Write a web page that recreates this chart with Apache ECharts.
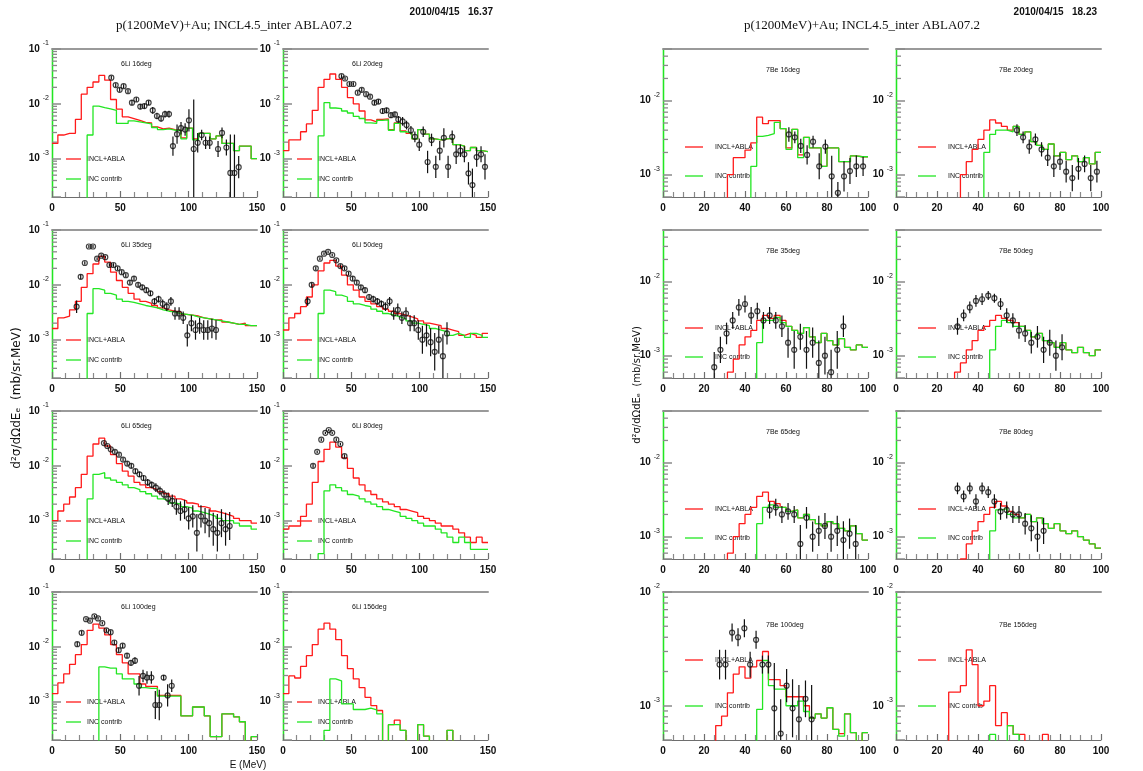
<!DOCTYPE html>
<html>
<head>
<meta charset="utf-8">
<script src="https://cdn.jsdelivr.net/npm/echarts@6/dist/echarts.min.js"></script>
<style>
  html, body { margin: 0; padding: 0; background: #fff; }
  #chart { width: 1143px; height: 771px; }
</style>
</head>
<body>
<div id="chart"></div>
<script>
// bin edges (35 bins per spectrum)
const liEdges = [0, 4.29, 8.57, 12.86, 17.14, 21.43, 25.71, 30, 34.29, 38.57, 42.86, 47.14, 51.43, 55.71, 60, 64.29, 68.57, 72.86, 77.14, 81.43, 85.71, 90, 94.29, 98.57, 102.86, 107.14, 111.43, 115.71, 120, 124.29, 128.57, 132.86, 137.14, 141.43, 145.71, 150];
const beEdges = [0, 2.86, 5.71, 8.57, 11.43, 14.29, 17.14, 20, 22.86, 25.71, 28.57, 31.43, 34.29, 37.14, 40, 42.86, 45.71, 48.57, 51.43, 54.29, 57.14, 60, 62.86, 65.71, 68.57, 71.43, 74.29, 77.14, 80, 82.86, 85.71, 88.57, 91.43, 94.29, 97.14, 100];

// ---- 6Li ----
const li16Red = [1.9e-3, 2.7e-3, 2.9e-3, 2.9e-3, 5.2e-3, 1.5e-2, 2.0e-2, 2.5e-2, 3.3e-2, 2.7e-2, 1.2e-2, 8.0e-3, 5.8e-3, 5.4e-3, 5.0e-3, 4.6e-3, 4.5e-3, 3.8e-3, 3.5e-3, 3.6e-3, 3.4e-3, 3.3e-3, 2.4e-3, 3.6e-3, 2.3e-3, 2.9e-3, 2.9e-3, 2.3e-3, 2.6e-3, 1.9e-3, 1.9e-3, 1.4e-3, 1.7e-3, 1.7e-3, 1.0e-3];
const li16Green = [0, 0, 0, 0, 0, 0, 2.7e-3, 9.1e-3, 8.5e-3, 8.1e-3, 7.6e-3, 4.4e-3, 4.4e-3, 4.9e-3, 4.7e-3, 4.5e-3, 4.3e-3, 3.7e-3, 3.4e-3, 3.5e-3, 3.3e-3, 3.3e-3, 2.3e-3, 3.6e-3, 2.2e-3, 2.9e-3, 2.9e-3, 2.3e-3, 2.6e-3, 1.9e-3, 1.9e-3, 1.4e-3, 1.7e-3, 1.7e-3, 1.0e-3];
const li16Pts = [[43.4, 3.0e-2, 1.08], [46.6, 2.2e-2, 1.08], [49.5, 1.8e-2, 1.08], [52.4, 2.1e-2, 1.08], [55.6, 1.7e-2, 1.08], [58.5, 1.05e-2, 1.12], [61.7, 1.2e-2, 1.1], [64.6, 8.9e-3, 1.12], [67.6, 9.1e-3, 1.12], [70.7, 1.05e-2, 1.1], [73.7, 7.6e-3, 1.15], [76.8, 6.0e-3, 1.15], [79.8, 5.4e-3, 1.15], [82.7, 6.5e-3, 1.15], [85.6, 6.5e-3, 1.15], [88.5, 1.7e-3, 1.5], [91.5, 2.8e-3, 1.5], [94.4, 3.6e-3, 1.3], [97.4, 3.4e-3, 1.3], [100.2, 5.0e-3, 1.6], [103.7, 1.5e-3, 8], [106.6, 1.95e-3, 1.5], [109.5, 2.7e-3, 1.25], [112.4, 1.95e-3, 1.3], [115.4, 1.95e-3, 1.3], [121.5, 1.5e-3, 1.4], [124.4, 2.95e-3, 1.25], [127.6, 1.6e-3, 1.4], [130.5, 5.5e-4, 5], [133.5, 5.5e-4, 5], [136.6, 7.0e-4, 1.6]];

const li20Red = [1.4e-3, 2.2e-3, 2.2e-3, 3.1e-3, 4.3e-3, 7.6e-3, 2.0e-2, 2.8e-2, 3.5e-2, 2.8e-2, 2.0e-2, 1.3e-2, 1.0e-2, 7.4e-3, 5.1e-3, 4.7e-3, 5.2e-3, 5.3e-3, 3.4e-3, 4.5e-3, 3.2e-3, 2.9e-3, 2.3e-3, 3.4e-3, 2.8e-3, 2.3e-3, 2.2e-3, 2.3e-3, 2.35e-3, 1.8e-3, 1.7e-3, 1.4e-3, 1.6e-3, 1.4e-3, 1.35e-3];
const li20Green = [0, 0, 0, 0, 0, 0, 2.6e-3, 1.05e-2, 8.4e-3, 8.2e-3, 7.4e-3, 6.8e-3, 5.9e-3, 5.4e-3, 4.5e-3, 4.4e-3, 5.0e-3, 5.1e-3, 3.3e-3, 4.4e-3, 3.1e-3, 2.9e-3, 2.3e-3, 3.4e-3, 2.8e-3, 2.3e-3, 2.2e-3, 2.3e-3, 2.35e-3, 1.8e-3, 1.7e-3, 1.4e-3, 1.6e-3, 1.4e-3, 1.35e-3];
const li20Pts = [[42.8, 3.2e-2, 1.08], [45.4, 2.9e-2, 1.08], [48.6, 2.3e-2, 1.08], [51.5, 2.3e-2, 1.08], [54.7, 1.6e-2, 1.08], [57.6, 1.8e-2, 1.08], [60.8, 1.5e-2, 1.08], [63.7, 1.35e-2, 1.08], [66.9, 1.05e-2, 1.1], [69.8, 1.1e-2, 1.1], [72.9, 7.4e-3, 1.12], [75.8, 7.6e-3, 1.12], [79, 6.2e-3, 1.12], [81.9, 6.4e-3, 1.12], [84.4, 5.2e-3, 1.15], [87.5, 4.8e-3, 1.2], [90.4, 4.1e-3, 1.2], [93.6, 3.3e-3, 1.2], [96.5, 2.5e-3, 1.25], [99.7, 1.8e-3, 1.3], [102.6, 3.1e-3, 1.25], [105.8, 8.7e-4, 1.6], [108.7, 2.2e-3, 1.3], [111.8, 7.1e-4, 1.6], [114.7, 1.4e-3, 1.5], [117.7, 2.4e-3, 1.5], [120.8, 7.1e-4, 1.6], [123.8, 2.5e-3, 1.3], [126.7, 1.2e-3, 1.5], [129.8, 1.4e-3, 1.3], [132.7, 1.2e-3, 1.4], [135.7, 5.4e-4, 1.6], [138.6, 3.3e-4, 2], [141.7, 1.07e-3, 1.5], [144.9, 1.2e-3, 1.4], [147.8, 7.1e-4, 1.7]];

const li35Red = [1.6e-3, 2.5e-3, 2.7e-3, 3.5e-3, 5.0e-3, 9.0e-3, 1.6e-2, 2.4e-2, 3.3e-2, 2.6e-2, 1.7e-2, 1.2e-2, 9.0e-3, 7.0e-3, 5.5e-3, 5.0e-3, 4.6e-3, 4.2e-3, 3.8e-3, 3.5e-3, 3.3e-3, 3.2e-3, 2.9e-3, 2.8e-3, 2.7e-3, 2.5e-3, 2.4e-3, 2.3e-3, 2.3e-3, 2.1e-3, 2.0e-3, 1.9e-3, 2.0e-3, 1.8e-3, 1.8e-3];
const li35Green = [0, 0, 0, 0, 0, 0, 3.0e-3, 8.5e-3, 8.0e-3, 7.0e-3, 6.5e-3, 5.5e-3, 5.0e-3, 4.8e-3, 4.5e-3, 4.2e-3, 4.0e-3, 3.8e-3, 3.5e-3, 3.3e-3, 3.2e-3, 3.0e-3, 2.9e-3, 2.8e-3, 2.6e-3, 2.5e-3, 2.4e-3, 2.3e-3, 2.2e-3, 2.1e-3, 2.0e-3, 1.9e-3, 1.9e-3, 1.8e-3, 1.8e-3];
const li35Pts = [[18, 4.0e-3, 1.3], [21, 1.4e-2, 1.1], [24, 2.5e-2, 1.08], [27, 5.0e-2, 1.06], [30, 5.0e-2, 1.06], [33, 3.0e-2, 1.06], [36, 3.4e-2, 1.06], [39, 3.2e-2, 1.06], [42, 2.3e-2, 1.08], [45, 2.3e-2, 1.08], [48, 2.0e-2, 1.08], [51, 1.7e-2, 1.08], [54, 1.5e-2, 1.08], [57, 1.1e-2, 1.1], [60, 1.3e-2, 1.1], [63, 1.0e-2, 1.1], [66, 9.0e-3, 1.12], [69, 8.0e-3, 1.12], [72, 7.0e-3, 1.12], [75, 5.0e-3, 1.15], [78, 5.5e-3, 1.15], [81, 4.5e-3, 1.2], [84, 4.0e-3, 1.2], [87, 5.0e-3, 1.2], [90, 3.0e-3, 1.3], [93, 3.0e-3, 1.3], [96, 2.5e-3, 1.3], [99, 1.2e-3, 1.6], [102, 2.0e-3, 1.4], [105, 1.5e-3, 1.5], [108, 1.8e-3, 1.4], [111, 1.5e-3, 1.5], [114, 1.5e-3, 1.5], [117, 1.6e-3, 1.5], [120, 1.5e-3, 1.5]];

const li50Red = [1.5e-3, 2.5e-3, 3.0e-3, 4.0e-3, 6.0e-3, 1.0e-2, 1.8e-2, 2.5e-2, 2.8e-2, 2.2e-2, 1.5e-2, 1.0e-2, 8.0e-3, 6.0e-3, 5.0e-3, 4.5e-3, 4.0e-3, 3.6e-3, 3.3e-3, 3.0e-3, 2.8e-3, 2.6e-3, 2.4e-3, 2.2e-3, 2.0e-3, 1.9e-3, 1.8e-3, 1.6e-3, 1.5e-3, 1.4e-3, 1.2e-3, 1.3e-3, 1.2e-3, 1.1e-3, 1.3e-3];
const li50Green = [0, 0, 0, 0, 0, 0, 3.0e-3, 8.0e-3, 7.5e-3, 6.5e-3, 6.0e-3, 5.0e-3, 4.5e-3, 4.2e-3, 4.0e-3, 3.6e-3, 3.3e-3, 3.0e-3, 2.8e-3, 2.6e-3, 2.4e-3, 2.2e-3, 2.0e-3, 1.9e-3, 1.8e-3, 1.6e-3, 1.5e-3, 1.4e-3, 1.2e-3, 1.3e-3, 1.2e-3, 1.1e-3, 1.3e-3, 1.2e-3, 1.1e-3];
const li50Pts = [[18, 5.0e-3, 1.2], [21, 1.0e-2, 1.1], [24, 2.0e-2, 1.08], [27, 3.0e-2, 1.06], [30, 3.7e-2, 1.06], [33, 4.0e-2, 1.06], [36, 3.5e-2, 1.06], [39, 2.8e-2, 1.06], [42, 2.2e-2, 1.08], [45, 2.0e-2, 1.08], [48, 1.6e-2, 1.08], [51, 1.3e-2, 1.1], [54, 1.1e-2, 1.1], [57, 9.0e-3, 1.1], [60, 8.0e-3, 1.12], [63, 6.0e-3, 1.12], [66, 5.5e-3, 1.15], [69, 5.0e-3, 1.15], [72, 4.5e-3, 1.15], [75, 4.0e-3, 1.2], [78, 5.0e-3, 1.2], [81, 3.0e-3, 1.3], [84, 3.5e-3, 1.3], [87, 2.5e-3, 1.3], [90, 3.0e-3, 1.3], [93, 2.0e-3, 1.4], [96, 2.0e-3, 1.4], [99, 1.5e-3, 1.5], [102, 1.0e-3, 1.8], [105, 1.2e-3, 1.6], [108, 9.0e-4, 1.8], [111, 6.0e-4, 2.2], [114, 1.0e-3, 1.8], [117, 5.0e-4, 2.5], [120, 1.3e-3, 1.6]];

const li65Red = [1.0e-3, 1.5e-3, 2.0e-3, 2.7e-3, 4.0e-3, 7.0e-3, 1.5e-2, 2.5e-2, 3.2e-2, 2.3e-2, 1.6e-2, 1.1e-2, 8.0e-3, 6.5e-3, 5.0e-3, 4.5e-3, 4.0e-3, 3.7e-3, 3.4e-3, 3.1e-3, 2.8e-3, 2.5e-3, 2.3e-3, 2.1e-3, 2.0e-3, 1.8e-3, 1.7e-3, 1.5e-3, 1.4e-3, 1.3e-3, 1.2e-3, 1.1e-3, 1.0e-3, 1.0e-3, 9.0e-4];
const li65Green = [0, 0, 0, 0, 0, 0, 2.5e-3, 7.0e-3, 7.5e-3, 6.0e-3, 5.5e-3, 5.0e-3, 4.5e-3, 4.0e-3, 3.7e-3, 3.4e-3, 3.1e-3, 2.8e-3, 2.5e-3, 2.3e-3, 2.1e-3, 2.0e-3, 1.8e-3, 1.7e-3, 1.5e-3, 1.4e-3, 1.3e-3, 1.2e-3, 1.1e-3, 1.0e-3, 1.0e-3, 9.0e-4, 8.0e-4, 8.0e-4, 7.0e-4];
const li65Pts = [[38, 2.6e-2, 1.06], [40.5, 2.3e-2, 1.06], [43, 2.0e-2, 1.06], [46, 1.8e-2, 1.08], [49, 1.6e-2, 1.08], [52, 1.3e-2, 1.08], [55, 1.1e-2, 1.1], [58, 1.0e-2, 1.1], [61, 8.0e-3, 1.1], [64, 7.0e-3, 1.12], [67, 6.0e-3, 1.12], [70, 5.0e-3, 1.15], [73, 4.5e-3, 1.15], [76, 4.0e-3, 1.2], [79, 3.5e-3, 1.2], [82, 3.0e-3, 1.2], [85, 2.5e-3, 1.3], [88, 2.3e-3, 1.3], [91, 1.8e-3, 1.4], [94, 1.5e-3, 1.5], [97, 1.6e-3, 1.5], [100, 1.1e-3, 1.6], [103, 1.2e-3, 1.6], [106, 6.0e-4, 2.2], [109, 1.2e-3, 1.6], [112, 1.0e-3, 1.7], [115, 9.0e-4, 1.8], [118, 7.0e-4, 2], [121, 6.0e-4, 2.2], [124, 9.0e-4, 1.8], [127, 7.0e-4, 2], [130, 8.0e-4, 1.8]];

const li80Red = [7.0e-4, 8.0e-4, 8.0e-4, 1.2e-3, 2.0e-3, 5.0e-3, 1.2e-2, 2.0e-2, 2.7e-2, 2.2e-2, 1.4e-2, 9.0e-3, 6.0e-3, 4.5e-3, 3.5e-3, 3.0e-3, 2.5e-3, 2.2e-3, 2.0e-3, 1.8e-3, 1.6e-3, 1.5e-3, 1.4e-3, 1.2e-3, 1.1e-3, 1.0e-3, 9.0e-4, 8.0e-4, 8.0e-4, 7.0e-4, 6.0e-4, 5.0e-4, 4.0e-4, 5.0e-4, 4.0e-4];
const li80Green = [0, 0, 0, 0, 0, 0, 2.5e-4, 3.5e-3, 4.5e-3, 4.0e-3, 3.5e-3, 3.0e-3, 2.8e-3, 2.5e-3, 2.2e-3, 2.0e-3, 1.8e-3, 1.6e-3, 1.5e-3, 1.4e-3, 1.2e-3, 1.1e-3, 1.0e-3, 9.0e-4, 8.0e-4, 8.0e-4, 7.0e-4, 6.0e-4, 5.0e-4, 4.0e-4, 5.0e-4, 4.0e-4, 3.0e-4, 3.0e-4, 3.0e-4];
const li80Pts = [[22, 1.0e-2, 1.08], [25, 1.8e-2, 1.06], [28, 3.0e-2, 1.06], [31, 4.0e-2, 1.05], [33.5, 4.5e-2, 1.05], [36, 4.0e-2, 1.05], [39, 3.0e-2, 1.06], [42, 2.5e-2, 1.06], [45, 1.5e-2, 1.08]];

const li100Red = [1.4e-3, 2.2e-3, 3.2e-3, 4.8e-3, 7.2e-3, 1.1e-2, 2.0e-2, 2.6e-2, 2.2e-2, 1.65e-2, 1.1e-2, 7.2e-3, 5.1e-3, 3.2e-3, 3.2e-3, 2.1e-3, 1.9e-3, 1.9e-3, 1.3e-3, 1.3e-3, 1.3e-3, 1.3e-3, 5.5e-4, 5.5e-4, 8.0e-4, 8.0e-4, 5.5e-4, 2.3e-4, 2.3e-4, 6.0e-4, 6.0e-4, 5.3e-4, 4.3e-4, 0, 2.3e-4];
const li100Green = [0, 0, 0, 0, 0, 0, 0, 0, 4.3e-3, 4.1e-3, 4.1e-3, 3.2e-3, 2.6e-3, 2.6e-3, 2.1e-3, 1.8e-3, 1.75e-3, 1.75e-3, 1.26e-3, 1.26e-3, 1.26e-3, 1.26e-3, 5.5e-4, 5.5e-4, 8.0e-4, 8.0e-4, 5.5e-4, 2.3e-4, 2.3e-4, 6.0e-4, 6.0e-4, 5.3e-4, 4.3e-4, 0, 2.3e-4];
const li100Pts = [[18.5, 1.12e-2, 1.1], [21.7, 1.8e-2, 1.08], [24.9, 3.2e-2, 1.06], [27.8, 3.0e-2, 1.06], [31, 3.6e-2, 1.06], [33.7, 3.3e-2, 1.06], [36.8, 2.7e-2, 1.06], [39.8, 2.0e-2, 1.08], [42.9, 1.85e-2, 1.08], [45.6, 1.2e-2, 1.1], [48.8, 8.7e-3, 1.1], [51.7, 1.05e-2, 1.1], [54.9, 6.9e-3, 1.12], [57.8, 5.1e-3, 1.12], [60.7, 5.6e-3, 1.15], [63.7, 1.95e-3, 1.5], [66.6, 2.95e-3, 1.3], [69.5, 2.75e-3, 1.3], [72.7, 2.75e-3, 1.3], [75.6, 8.7e-4, 1.8], [78.5, 8.7e-4, 1.9], [81.7, 2.75e-3, 1.12], [84.6, 1.3e-3, 1.6], [87.6, 1.95e-3, 1.3]];

const li156Red = [1.4e-3, 2.95e-3, 2.7e-3, 4.4e-3, 6.9e-3, 1.1e-2, 2.1e-2, 2.7e-2, 2.1e-2, 1.35e-2, 6.9e-3, 4.0e-3, 2.6e-3, 1.8e-3, 1.2e-3, 8.5e-4, 6.9e-4, 0, 3.8e-4, 4.6e-4, 3.0e-4, 0, 0, 3.8e-4, 2.35e-4, 0, 0, 0, 3.0e-4, 0, 0, 0, 0, 0, 0];
const li156Green = [0, 0, 0, 0, 0, 0, 0, 3.0e-4, 2.6e-3, 2.4e-3, 9.1e-4, 9.1e-4, 7.2e-4, 7.2e-4, 7.6e-4, 7.1e-4, 6.0e-4, 0, 3.8e-4, 3.8e-4, 3.0e-4, 0, 0, 3.8e-4, 2.35e-4, 0, 0, 0, 3.0e-4, 0, 0, 0, 0, 0, 0];
const li156Pts = [];

// ---- 7Be ----
const be16Red = [0, 0, 0, 0, 0, 0, 0, 0, 0, 0, 0, 1.0e-3, 1.7e-3, 1.7e-3, 2.15e-3, 2.7e-3, 6.0e-3, 4.9e-3, 5.4e-3, 5.4e-3, 4.2e-3, 2.3e-3, 4.1e-3, 1.85e-3, 3.2e-3, 2.3e-3, 2.3e-3, 1.3e-3, 2.3e-3, 2.3e-3, 1.5e-3, 1.5e-3, 1.8e-3, 1.75e-3, 1.75e-3];
const be16Green = [0, 0, 0, 0, 0, 0, 0, 0, 0, 0, 0, 0, 0, 0, 0, 1.3e-3, 3.3e-3, 3.4e-3, 3.6e-3, 5.1e-3, 4.2e-3, 2.2e-3, 4.1e-3, 1.7e-3, 3.2e-3, 2.3e-3, 2.3e-3, 1.3e-3, 2.3e-3, 2.3e-3, 1.5e-3, 1.5e-3, 1.8e-3, 1.75e-3, 1.75e-3];
const be16Pts = [[61.4, 3.5e-3, 1.25], [64.3, 3.2e-3, 1.2], [67.2, 2.45e-3, 1.25], [70.3, 1.85e-3, 1.35], [73.2, 2.8e-3, 1.2], [76.2, 1.3e-3, 1.5], [79.2, 2.4e-3, 1.25], [82.3, 9.5e-4, 1.9], [85.3, 5.7e-4, 1.4], [88.3, 9.5e-4, 1.6], [91.2, 1.12e-3, 1.5], [94.3, 1.3e-3, 1.4], [97.6, 1.3e-3, 1.35]];

const be20Red = [0, 0, 0, 0, 0, 0, 0, 0, 0, 0, 0, 1.0e-3, 1.5e-3, 2.2e-3, 3.0e-3, 4.0e-3, 5.5e-3, 5.0e-3, 4.5e-3, 4.0e-3, 4.5e-3, 3.5e-3, 3.8e-3, 2.8e-3, 2.5e-3, 2.2e-3, 2.6e-3, 1.8e-3, 2.0e-3, 1.6e-3, 1.8e-3, 1.5e-3, 1.7e-3, 1.4e-3, 2.0e-3];
const be20Green = [0, 0, 0, 0, 0, 0, 0, 0, 0, 0, 0, 0, 0, 0, 0, 2.0e-3, 3.5e-3, 4.0e-3, 4.0e-3, 3.8e-3, 4.5e-3, 3.5e-3, 3.8e-3, 2.8e-3, 2.5e-3, 2.2e-3, 2.6e-3, 1.8e-3, 2.0e-3, 1.6e-3, 1.8e-3, 1.5e-3, 1.7e-3, 1.4e-3, 2.0e-3];
const be20Pts = [[59, 4.0e-3, 1.2], [62, 3.2e-3, 1.2], [65, 2.4e-3, 1.25], [68, 3.0e-3, 1.2], [71, 2.2e-3, 1.25], [74, 1.7e-3, 1.3], [77, 1.3e-3, 1.4], [80, 1.5e-3, 1.3], [83, 1.1e-3, 1.4], [86, 9.0e-4, 1.5], [89, 1.2e-3, 1.4], [92, 1.4e-3, 1.3], [95, 9.0e-4, 1.5], [98, 1.1e-3, 1.4]];

const be35Red = [0, 0, 0, 0, 0, 0, 0, 0, 0, 0, 0, 6.0e-4, 9.0e-4, 1.4e-3, 1.8e-3, 2.2e-3, 3.0e-3, 3.5e-3, 3.2e-3, 3.5e-3, 3.0e-3, 2.5e-3, 2.2e-3, 2.0e-3, 2.4e-3, 1.8e-3, 1.5e-3, 2.0e-3, 1.6e-3, 1.4e-3, 1.7e-3, 1.3e-3, 1.2e-3, 1.4e-3, 1.3e-3];
const be35Green = [0, 0, 0, 0, 0, 0, 0, 0, 0, 0, 0, 0, 0, 0, 0, 0, 1.5e-3, 3.0e-3, 3.0e-3, 3.3e-3, 2.8e-3, 2.5e-3, 2.2e-3, 2.0e-3, 2.4e-3, 1.8e-3, 1.5e-3, 2.0e-3, 1.6e-3, 1.4e-3, 1.7e-3, 1.3e-3, 1.2e-3, 1.4e-3, 1.3e-3];
const be35Pts = [[25, 7.0e-4, 1.6], [28, 1.2e-3, 1.5], [31, 2.0e-3, 1.4], [34, 3.0e-3, 1.3], [37, 4.5e-3, 1.3], [40, 5.0e-3, 1.3], [43, 3.5e-3, 1.3], [46, 4.0e-3, 1.3], [49, 3.0e-3, 1.3], [52, 3.5e-3, 1.3], [55, 3.0e-3, 1.3], [58, 2.5e-3, 1.4], [61, 1.5e-3, 1.6], [64, 1.2e-3, 1.8], [67, 1.8e-3, 1.5], [70, 1.2e-3, 1.8], [73, 1.5e-3, 1.6], [76, 8.0e-4, 2], [79, 1.0e-3, 1.8], [82, 6.0e-4, 2], [85, 1.2e-3, 1.8], [88, 2.5e-3, 1.4]];

const be50Red = [0, 0, 0, 0, 0, 0, 0, 0, 0, 0, 6.0e-4, 8.0e-4, 1.2e-3, 1.6e-3, 2.2e-3, 2.5e-3, 3.0e-3, 3.5e-3, 3.2e-3, 3.0e-3, 2.8e-3, 2.5e-3, 2.2e-3, 1.8e-3, 2.0e-3, 1.6e-3, 1.5e-3, 1.3e-3, 1.5e-3, 1.2e-3, 1.1e-3, 1.3e-3, 1.1e-3, 1.0e-3, 1.2e-3];
const be50Green = [0, 0, 0, 0, 0, 0, 0, 0, 0, 0, 0, 0, 0, 0, 0, 0, 1.2e-3, 2.5e-3, 3.0e-3, 2.8e-3, 2.5e-3, 2.5e-3, 2.2e-3, 1.8e-3, 2.0e-3, 1.6e-3, 1.5e-3, 1.3e-3, 1.5e-3, 1.2e-3, 1.1e-3, 1.3e-3, 1.1e-3, 1.0e-3, 1.2e-3];
const be50Pts = [[30, 2.5e-3, 1.3], [33, 3.5e-3, 1.2], [36, 4.5e-3, 1.2], [39, 5.5e-3, 1.2], [42, 5.8e-3, 1.2], [45, 6.5e-3, 1.15], [48, 6.0e-3, 1.15], [51, 5.0e-3, 1.2], [54, 3.5e-3, 1.25], [57, 3.0e-3, 1.25], [60, 2.2e-3, 1.3], [63, 2.0e-3, 1.3], [66, 1.5e-3, 1.4], [69, 1.8e-3, 1.4], [72, 1.2e-3, 1.5], [75, 1.5e-3, 1.5], [78, 1.0e-3, 1.6], [81, 1.3e-3, 1.5]];

const be65Red = [0, 0, 0, 0, 0, 0, 0, 0, 0, 0, 0, 6.0e-4, 1.0e-3, 1.5e-3, 2.0e-3, 2.5e-3, 3.5e-3, 4.0e-3, 3.0e-3, 2.8e-3, 2.5e-3, 2.2e-3, 2.3e-3, 1.8e-3, 2.0e-3, 1.7e-3, 1.5e-3, 1.4e-3, 1.6e-3, 1.5e-3, 1.3e-3, 1.2e-3, 1.4e-3, 1.1e-3, 9.0e-4];
const be65Green = [0, 0, 0, 0, 0, 0, 0, 0, 0, 0, 0, 0, 0, 0, 0, 0, 1.5e-3, 2.5e-3, 2.7e-3, 2.5e-3, 2.5e-3, 2.2e-3, 2.3e-3, 1.8e-3, 2.0e-3, 1.7e-3, 1.5e-3, 1.4e-3, 1.6e-3, 1.5e-3, 1.3e-3, 1.2e-3, 1.4e-3, 1.1e-3, 9.0e-4];
const be65Pts = [[52, 2.3e-3, 1.3], [55, 2.5e-3, 1.3], [58, 2.0e-3, 1.3], [61, 2.2e-3, 1.3], [64, 2.0e-3, 1.3], [67, 8.0e-4, 1.8], [70, 1.8e-3, 1.4], [73, 1.0e-3, 1.6], [76, 1.2e-3, 1.6], [79, 1.4e-3, 1.5], [82, 1.0e-3, 1.6], [85, 1.2e-3, 1.6], [88, 9.0e-4, 1.8], [91, 1.1e-3, 1.6], [94, 8.0e-4, 1.8]];

const be80Red = [0, 0, 0, 0, 0, 0, 0, 0, 0, 0, 0, 5.0e-4, 8.0e-4, 1.2e-3, 1.6e-3, 2.0e-3, 2.5e-3, 3.0e-3, 2.6e-3, 2.2e-3, 2.0e-3, 1.8e-3, 2.0e-3, 1.6e-3, 1.8e-3, 1.5e-3, 1.3e-3, 1.5e-3, 1.2e-3, 1.1e-3, 1.2e-3, 1.0e-3, 9.0e-4, 8.0e-4, 7.0e-4];
const be80Green = [0, 0, 0, 0, 0, 0, 0, 0, 0, 0, 0, 0, 0, 0, 0, 0, 1.2e-3, 2.3e-3, 2.4e-3, 2.0e-3, 1.8e-3, 1.8e-3, 2.0e-3, 1.6e-3, 1.8e-3, 1.5e-3, 1.3e-3, 1.5e-3, 1.2e-3, 1.1e-3, 1.2e-3, 1.0e-3, 9.0e-4, 8.0e-4, 7.0e-4];
const be80Pts = [[30, 4.5e-3, 1.2], [33, 3.5e-3, 1.2], [36, 4.5e-3, 1.2], [39, 3.0e-3, 1.25], [42, 4.5e-3, 1.2], [45, 4.0e-3, 1.2], [48, 3.0e-3, 1.25], [51, 2.2e-3, 1.3], [54, 2.3e-3, 1.3], [57, 2.0e-3, 1.3], [60, 2.0e-3, 1.3], [63, 1.5e-3, 1.4], [66, 1.3e-3, 1.5], [69, 1.0e-3, 1.6], [72, 1.2e-3, 1.5]];

const be100Red = [0, 0, 0, 0, 0, 0, 0, 0, 0, 6.7e-4, 8.1e-4, 1.3e-3, 1.9e-3, 2.2e-3, 1.75e-3, 2.2e-3, 2.5e-3, 3.0e-3, 1.7e-3, 1.7e-3, 1.5e-3, 1.2e-3, 1.2e-3, 1.2e-3, 1.0e-3, 7.8e-4, 8.5e-4, 7.8e-4, 9.6e-4, 6.2e-4, 5.7e-4, 8.5e-4, 5.8e-4, 0, 5.8e-4];
const be100Green = [0, 0, 0, 0, 0, 0, 0, 0, 0, 0, 0, 0, 0, 0, 0, 0, 9.3e-4, 2.5e-3, 1.5e-3, 1.4e-3, 1.4e-3, 1.0e-3, 1.0e-3, 1.1e-3, 8.9e-4, 7.8e-4, 8.5e-4, 7.8e-4, 9.6e-4, 6.2e-4, 5.4e-4, 8.5e-4, 5.8e-4, 0, 5.8e-4];
const be100Pts = [[27.6, 2.3e-3, 1.35], [30.5, 2.3e-3, 1.35], [33.7, 4.4e-3, 1.2], [36.6, 4.0e-3, 1.2], [39.7, 4.8e-3, 1.2], [42.5, 2.3e-3, 1.3], [45.4, 3.8e-3, 1.2], [48.5, 2.3e-3, 1.2], [51.4, 2.3e-3, 1.2], [54.3, 9.5e-4, 2.5], [57.4, 5.7e-4, 2], [60.3, 1.5e-3, 1.4], [63.2, 9.5e-4, 1.8], [66.3, 7.6e-4, 2], [69.5, 1.15e-3, 1.45], [72.5, 7.6e-4, 2]];

const be156Red = [0, 0, 0, 0, 0, 0, 0, 0, 0, 1.32e-3, 1.32e-3, 1.5e-3, 3.1e-3, 2.3e-3, 1.0e-3, 1.1e-3, 1.5e-3, 6.7e-4, 8.7e-4, 6.7e-4, 5.6e-4, 5.6e-4, 0, 0, 0, 5.6e-4, 0, 0, 0, 0, 0, 0, 0, 0, 0];
const be156Green = [0, 0, 0, 0, 0, 0, 0, 0, 0, 0, 0, 0, 0, 0, 0, 0, 5.6e-4, 0, 0, 6.7e-4, 5.6e-4, 0, 0, 0, 0, 0, 0, 0, 0, 0, 0, 0, 0, 0, 0];
const be156Pts = [];

// log-axis minor tick mantissas and decades
const minorMant = [2, 3, 4, 5, 6, 7, 8, 9];
const minorDecades = [1e-4, 1e-3, 1e-2];

const panels = [
  { label: '6Li 16deg', page: 0, row: 0, col: 0, red: li16Red, green: li16Green, pts: li16Pts },
  { label: '6Li 20deg', page: 0, row: 0, col: 1, red: li20Red, green: li20Green, pts: li20Pts },
  { label: '6Li 35deg', page: 0, row: 1, col: 0, red: li35Red, green: li35Green, pts: li35Pts },
  { label: '6Li 50deg', page: 0, row: 1, col: 1, red: li50Red, green: li50Green, pts: li50Pts },
  { label: '6Li 65deg', page: 0, row: 2, col: 0, red: li65Red, green: li65Green, pts: li65Pts },
  { label: '6Li 80deg', page: 0, row: 2, col: 1, red: li80Red, green: li80Green, pts: li80Pts },
  { label: '6Li 100deg', page: 0, row: 3, col: 0, red: li100Red, green: li100Green, pts: li100Pts },
  { label: '6Li 156deg', page: 0, row: 3, col: 1, red: li156Red, green: li156Green, pts: li156Pts },
  { label: '7Be 16deg', page: 1, row: 0, col: 0, red: be16Red, green: be16Green, pts: be16Pts },
  { label: '7Be 20deg', page: 1, row: 0, col: 1, red: be20Red, green: be20Green, pts: be20Pts },
  { label: '7Be 35deg', page: 1, row: 1, col: 0, red: be35Red, green: be35Green, pts: be35Pts },
  { label: '7Be 50deg', page: 1, row: 1, col: 1, red: be50Red, green: be50Green, pts: be50Pts },
  { label: '7Be 65deg', page: 1, row: 2, col: 0, red: be65Red, green: be65Green, pts: be65Pts },
  { label: '7Be 80deg', page: 1, row: 2, col: 1, red: be80Red, green: be80Green, pts: be80Pts },
  { label: '7Be 100deg', page: 1, row: 3, col: 0, red: be100Red, green: be100Green, pts: be100Pts },
  { label: '7Be 156deg', page: 1, row: 3, col: 1, red: be156Red, green: be156Green, pts: be156Pts }
];

panels.forEach(p => {
  if (p.red.length !== 35 || p.green.length !== 35) {
    throw new Error(p.label + ' bins: red ' + p.red.length + ' green ' + p.green.length);
  }
});

// layout
const pageCols = [[52, 283], [663, 896]];
const rowTops = [49, 230, 411, 592];
const panelW = 205, panelH = 148;
const RED = '#ff1a1a', GREEN = '#22e622', GRAY = '#8a8a8a';
const FONT = 'Liberation Sans';
const FLOOR = 1e-9;   // empty bins fall below the axis and get clipped

const grids = [], xAxes = [], yAxes = [], series = [], graphics = [];

function histData(edges, vals) {
  return edges.map((e, i) => [e, Math.max(vals[Math.min(i, vals.length - 1)], FLOOR)]);
}

function decadeLabel(v) {
  const e = Math.log10(v);
  const r = Math.round(e);
  if (Math.abs(e - r) > 1e-3) return '';
  return '{b|10}{s|' + r + '}';
}

panels.forEach((p, i) => {
  const left = pageCols[p.page][p.col];
  const top = rowTops[p.row];
  const isLi = p.page === 0;
  const edges = isLi ? liEdges : beEdges;
  const xMax = isLi ? 150 : 100;
  const yMin = isLi ? 2e-4 : 5e-4;
  const yMax = isLi ? 0.1 : (p.row === 3 ? 1e-2 : 5e-2);

  grids.push({ left: left, top: top, width: panelW, height: panelH, containLabel: false });

  xAxes.push({
    type: 'value', gridIndex: i, min: 0, max: xMax, interval: isLi ? 50 : 20,
    axisLine: { show: true, onZero: false, lineStyle: { color: '#6e6e6e', width: 1 } },
    axisTick: { show: true, inside: true, length: 6, lineStyle: { color: '#6e6e6e', width: 1.2 } },
    minorTick: { show: true, splitNumber: isLi ? 5 : 4, length: 5, lineStyle: { color: GRAY, width: 1.2 } },
    axisLabel: { fontSize: 10, fontWeight: 'bold', fontFamily: FONT, color: '#111', margin: 6 },
    splitLine: { show: false }
  });
  xAxes.push({
    type: 'value', gridIndex: i, min: 0, max: xMax, position: 'top',
    axisLine: { show: true, onZero: false, lineStyle: { color: '#9a9a9a', width: 2 } },
    axisTick: { show: false }, axisLabel: { show: false }, splitLine: { show: false }
  });

  yAxes.push({
    type: 'log', logBase: 10, gridIndex: i, min: yMin, max: yMax,
    axisLine: { show: true, lineStyle: { color: GREEN, width: 1.3 } },
    axisTick: { show: true, inside: true, length: 9, lineStyle: { color: GRAY, width: 1.5 } },
    axisLabel: {
      margin: 3, formatter: decadeLabel,
      rich: {
        b: { fontSize: 10, fontWeight: 'bold', fontFamily: FONT, color: '#111' },
        s: { fontSize: 7, fontFamily: FONT, color: '#111', padding: [0, 0, 11, 3] }
      }
    },
    splitLine: { show: false }, minorTick: { show: false }
  });
  yAxes.push({
    type: 'log', logBase: 10, gridIndex: i, min: yMin, max: yMax, position: 'right',
    axisLine: { show: true, lineStyle: { color: GREEN, width: 1.3 } },
    axisTick: { show: false }, axisLabel: { show: false }, splitLine: { show: false }
  });

  const xi = 2 * i, yi = 2 * i;

  // log minor ticks on the left axis
  const minorVals = [];
  minorDecades.forEach(d => minorMant.forEach(m => {
    const v = m * d;
    if (v > yMin * 1.001 && v < yMax * 0.999) minorVals.push([0, v]);
  }));
  series.push({
    type: 'custom', xAxisIndex: xi, yAxisIndex: yi, silent: true, z: 3,
    data: minorVals,
    renderItem: (params, api) => {
      const c = api.coord([api.value(0), api.value(1)]);
      return { type: 'line', shape: { x1: c[0], y1: c[1], x2: c[0] + 5, y2: c[1] },
        style: { stroke: GRAY, lineWidth: 1.3 } };
    }
  });

  series.push({
    type: 'line', xAxisIndex: xi, yAxisIndex: yi, step: 'end', symbol: 'none',
    data: histData(edges, p.red), clip: true, z: 4,
    lineStyle: { color: RED, width: 1.3 }
  });
  series.push({
    type: 'line', xAxisIndex: xi, yAxisIndex: yi, step: 'end', symbol: 'none',
    data: histData(edges, p.green), clip: true, z: 5,
    lineStyle: { color: GREEN, width: 1.3 }
  });

  if (p.pts.length) {
    series.push({
      type: 'custom', xAxisIndex: xi, yAxisIndex: yi, clip: true, z: 6,
      data: p.pts.map(d => [d[0], d[1] / d[2], d[1] * d[2]]),
      encode: { x: 0, y: [1, 2] },
      renderItem: (params, api) => {
        const a = api.coord([api.value(0), api.value(1)]);
        const b = api.coord([api.value(0), api.value(2)]);
        return { type: 'line', shape: { x1: a[0], y1: a[1], x2: b[0], y2: b[1] },
          style: { stroke: '#111', lineWidth: 1.2 } };
      }
    });
    series.push({
      type: 'scatter', xAxisIndex: xi, yAxisIndex: yi, z: 7,
      symbol: 'circle', symbolSize: 5,
      data: p.pts.map(d => [d[0], d[1]]),
      itemStyle: { color: 'rgba(255,255,255,0)', borderColor: '#111', borderWidth: 1.2 }
    });
  }

  // panel label and legend
  const lowRow = !isLi && p.row === 3;
  const labX = left + (isLi ? 69 : 103);
  const labY = top + (isLi ? 15 : (lowRow ? 33 : 21));
  graphics.push({ type: 'text', x: labX, y: labY,
    style: { text: p.label, font: '7px ' + FONT, fill: '#111', verticalAlign: 'middle' } });

  const lx1 = left + (isLi ? 14 : 22), lx2 = left + (isLi ? 29 : 40), tx = left + (isLi ? 35 : 52);
  const ry = top + (isLi ? 110 : (lowRow ? 68 : 98));
  const gy = top + (isLi ? 130 : (lowRow ? 114 : 127));
  graphics.push({ type: 'line', shape: { x1: lx1, y1: ry, x2: lx2, y2: ry }, style: { stroke: RED, lineWidth: 1.3 } });
  graphics.push({ type: 'line', shape: { x1: lx1, y1: gy, x2: lx2, y2: gy }, style: { stroke: GREEN, lineWidth: 1.3 } });
  graphics.push({ type: 'text', x: tx, y: ry, style: { text: 'INCL+ABLA', font: '7px ' + FONT, fill: '#111', verticalAlign: 'middle' } });
  graphics.push({ type: 'text', x: tx, y: gy, style: { text: 'INC contrib', font: '7px ' + FONT, fill: '#111', verticalAlign: 'middle' } });
});

// page titles, time stamps, axis titles
const pageTitle = 'p(1200MeV)+Au; INCL4.5_inter ABLA07.2';
graphics.push({ type: 'text', x: 234, y: 26, style: { text: pageTitle, font: '13px Liberation Serif', fill: '#111', align: 'center', verticalAlign: 'middle' } });
graphics.push({ type: 'text', x: 862, y: 26, style: { text: pageTitle, font: '13px Liberation Serif', fill: '#111', align: 'center', verticalAlign: 'middle' } });
graphics.push({ type: 'text', x: 493, y: 12, style: { text: '2010/04/15   16.37', font: 'bold 10px ' + FONT, fill: '#111', align: 'right', verticalAlign: 'middle' } });
graphics.push({ type: 'text', x: 1097, y: 12, style: { text: '2010/04/15   18.23', font: 'bold 10px ' + FONT, fill: '#111', align: 'right', verticalAlign: 'middle' } });
const yTitle = 'd²σ/dΩdEₑ  (mb/sr.MeV)';
graphics.push({ type: 'text', x: 17, y: 398, rotation: Math.PI / 2, style: { text: yTitle, font: '12px DejaVu Sans', fill: '#111', align: 'center', verticalAlign: 'middle' } });
graphics.push({ type: 'text', x: 637, y: 385, rotation: Math.PI / 2, style: { text: yTitle, font: '10px DejaVu Sans', fill: '#111', align: 'center', verticalAlign: 'middle' } });
graphics.push({ type: 'text', x: 248, y: 765, style: { text: 'E (MeV)', font: '10px ' + FONT, fill: '#111', align: 'center', verticalAlign: 'middle' } });

const chart = echarts.init(document.getElementById('chart'), null, { renderer: 'canvas' });
chart.setOption({
  animation: false,
  backgroundColor: '#fff',
  grid: grids,
  xAxis: xAxes,
  yAxis: yAxes,
  series: series,
  graphic: { elements: graphics }
});
window.addEventListener('resize', () => chart.resize());
</script>
</body>
</html>
